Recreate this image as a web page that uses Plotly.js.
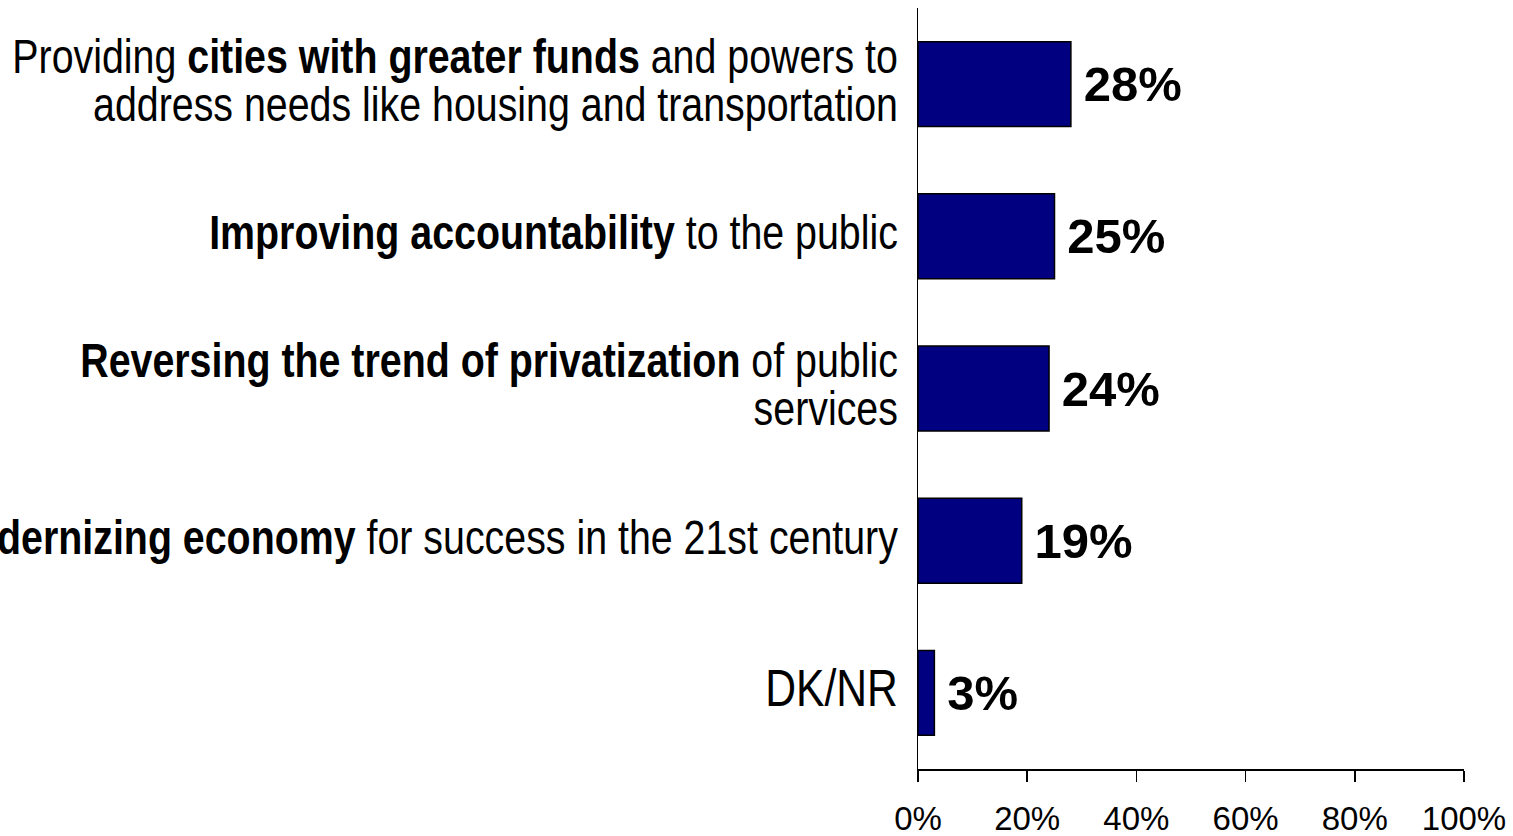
<!DOCTYPE html>
<html>
<head>
<meta charset="utf-8">
<script src="https://cdn.plot.ly/plotly-3.0.1.min.js"></script>
<style>
  html, body { margin: 0; padding: 0; background: #ffffff; }
  #chart { width: 1513px; height: 836px; }
  /* condense the category labels (Arial Narrow look) around their right edge */
  #chart .yaxislayer-above {
    transform-box: view-box;
    transform-origin: 897px 0px;
    transform: scaleX(0.82);
  }
</style>
</head>
<body>
<div id="chart"></div>
<script>
// Categories (top to bottom)
const categories = [
  'Providing cities with greater funds and powers to address needs like housing and transportation',
  'Improving accountability to the public',
  'Reversing the trend of privatization of public services',
  'Modernizing economy for success in the 21st century',
  'DK/NR'
];
// Tick label text (with emphasis as in the original)
const tickLabels = [
  '<span style="font-size:48px">Providing <b>cities with greater funds</b> and powers to</span><br><span style="font-size:48px">address needs like housing and transportation</span>',
  '<span style="font-size:48px"><b>Improving accountability</b> to the public</span>',
  '<span style="font-size:48px"><b>Reversing the trend of privatization</b> of public</span><br><span style="font-size:48px">services</span>',
  '<span style="font-size:48px"><b>Modernizing economy</b> for success in the 21st century</span>',
  '<span style="font-size:52px">DK/NR</span>'
];
// Share of respondents (%)
const values = [28, 25, 24, 19, 3];
// X axis ticks
const xTickVals = [0, 20, 40, 60, 80, 100];
const xTickText = ['0%', '20%', '40%', '60%', '80%', '100%'];

const trace = {
  type: 'bar',
  orientation: 'h',
  y: categories,
  x: values,
  marker: { color: '#000080', line: { color: '#000000', width: 1.5 } },
  text: values.map(v => '\u2009' + v + '%'),
  textposition: 'outside',
  textfont: { family: 'Liberation Sans, Arial, sans-serif', size: 49, color: '#000000', weight: 'bold' },
  cliponaxis: false,
  hoverinfo: 'x+y'
};

const layout = {
  width: 1513,
  height: 836,
  margin: { l: 918, r: 49, t: 8, b: 67, pad: 0 },
  paper_bgcolor: '#ffffff',
  plot_bgcolor: '#ffffff',
  showlegend: false,
  bargap: 0.442,
  font: { family: 'Liberation Sans, Arial, sans-serif', color: '#000000' },
  xaxis: {
    range: [0, 100],
    tickvals: xTickVals,
    ticktext: xTickText,
    ticks: 'outside',
    ticklen: 11,
    tickwidth: 1.5,
    tickcolor: '#000000',
    showline: true,
    linecolor: '#000000',
    linewidth: 1.5,
    showgrid: false,
    zeroline: false,
    ticklabelstandoff: 9,
    tickfont: { family: 'Liberation Sans, Arial, sans-serif', size: 33, color: '#000000' },
    fixedrange: true
  },
  yaxis: {
    type: 'category',
    categoryorder: 'array',
    categoryarray: categories,
    autorange: 'reversed',
    tickvals: categories,
    ticktext: tickLabels,
    ticks: '',
    showline: true,
    linecolor: '#000000',
    linewidth: 1.5,
    showgrid: false,
    zeroline: false,
    automargin: false,
    ticklabelstandoff: 11,
    tickfont: { family: 'Liberation Sans, Arial, sans-serif', size: 37, color: '#000000' },
    fixedrange: true
  }
};

Plotly.newPlot('chart', [trace], layout, { displayModeBar: false, staticPlot: true });
</script>
</body>
</html>
